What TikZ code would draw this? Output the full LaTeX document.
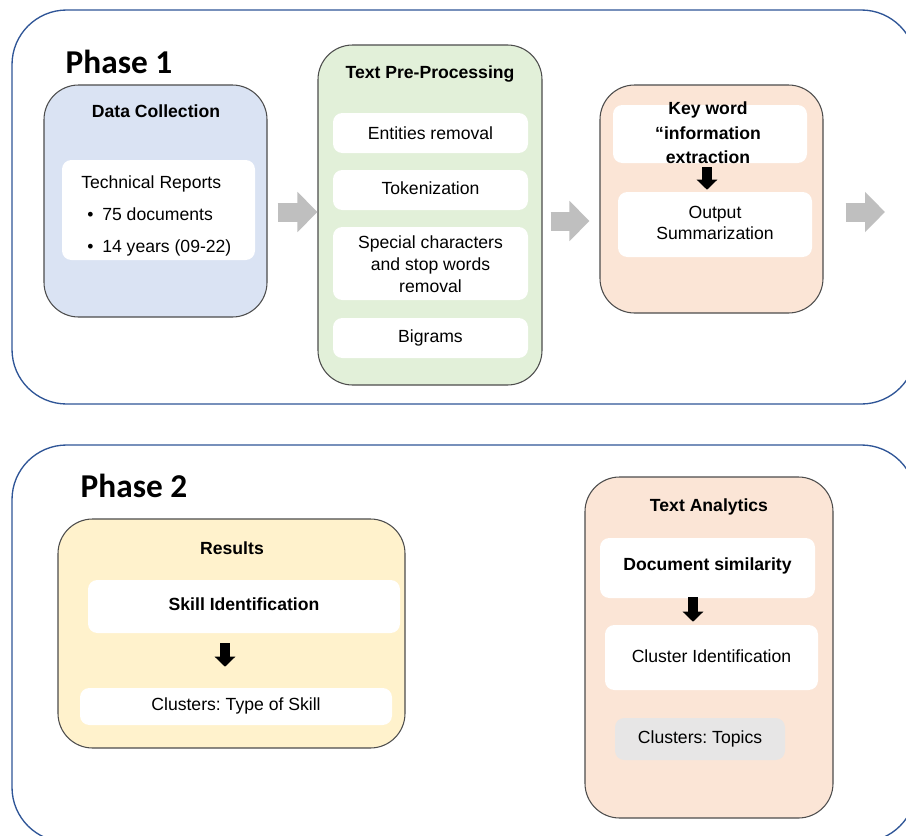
\documentclass[tikz,border=0pt]{standalone}
\usepackage{fontspec}
\setmainfont{Liberation Sans}
\newfontfamily\phasefont{Carlito}
\usetikzlibrary{fit,calc,arrows.meta}
\frenchspacing

\definecolor{framecol}{HTML}{2F5597}
\definecolor{collblue}{HTML}{DAE3F3}
\definecolor{prepgreen}{HTML}{E2F0D9}
\definecolor{extrpeach}{HTML}{FBE5D6}
\definecolor{resyellow}{HTML}{FFF2CC}
\definecolor{topicgray}{HTML}{E7E6E6}
\definecolor{arrowgray}{HTML}{BFBFBF}

\newcommand{\boxfont}{\fontsize{13.2}{16.5}\selectfont}

\tikzset{
  phaseframe/.style={draw=framecol, line width=1pt, rounded corners=41pt},
  phaselabel/.style={font=\phasefont\bfseries\fontsize{25}{30}\selectfont},
  stagebox/.style={draw=black!70, line width=0.8pt, rounded corners=26pt, inner sep=0pt},
  itembox/.style={fill=white, rounded corners=7pt, inner sep=0pt},
  itemtext/.style={font=\boxfont, align=center, inner sep=0pt},
  title/.style={font=\boxfont\bfseries},
  grayarrow/.style={draw=arrowgray, line width=14.25pt, -{Triangle[width=29.25pt,length=15pt]}},
  blackarrow/.style={draw=black, line width=7.5pt, -{Triangle[width=15pt,length=7.5pt]}}
}

\begin{document}
\begin{tikzpicture}[x=0.75pt, y=-0.75pt]
\useasboundingbox (0,0) rectangle (906,835);
\clip (0,0) rectangle (906,835);
\fill[white] (0,0) rectangle (906,835);

% phase frames
\draw[phaseframe] (12,10) rectangle (916,404);
\draw[phaseframe] (12,445) rectangle (916,842);
\node[phaselabel] (p1) at (119,62) {Phase 1};
\node[phaselabel] (p2) at (134,486) {Phase 2};

% data collection
\node[stagebox, fill=collblue, fit={(44,85) (267,317)}] (dc) {};
\node[title] (dctitle) at (156,111) {Data Collection};
\node[itembox, fit={(62,160) (255,260)}] (dcitems) {};
\node[font=\fontsize{13.2}{24}\selectfont, align=left, anchor=west, inner sep=0pt] (reports) at (81,216)
  {Technical Reports\\
   \hspace*{4.5pt}\makebox[11.25pt][l]{\textbullet}75 documents\\
   \hspace*{4.5pt}\makebox[11.25pt][l]{\textbullet}14 years (09-22)};

% text pre-processing
\node[stagebox, fill=prepgreen, fit={(318,45) (542,385)}] (tpp) {};
\node[title] (tpptitle) at (430,74) {Text Pre-Processing};
\node[itembox, fit={(333,113) (528,153)}] (ent) {};
\node[itembox, fit={(333,170) (528,210)}] (tok) {};
\node[itembox, fit={(333,227) (528,300)}] (spc) {};
\node[itembox, fit={(333,318) (528,358)}] (big) {};
\node[itemtext] at (ent) {Entities removal};
\node[itemtext] at ($(tok)+(0,-2)$) {Tokenization};
\node[itemtext] at ($(spc)+(0,1)$) {Special characters\\and stop words\\removal};
\node[itemtext] at (big) {Bigrams};

% key word extraction
\node[stagebox, fill=extrpeach, fit={(600,85) (823,313)}] (kw) {};
\node[itembox, fit={(613,105) (807,163)}] (kwe) {};
\node[title, align=center, font=\fontsize{13.2}{18.4}\selectfont\bfseries] (kwtext) at (708,133)
  {Key word\\``information\\extraction};
\node[itembox, fit={(618,192) (812,257)}] (kwo) {};
\node[itemtext, font=\fontsize{13.2}{15.75}\selectfont] at ($(kwo)+(0,-2)$) {Output\\Summarization};

% results
\node[stagebox, fill=resyellow, fit={(58,519) (405,748)}] (res) {};
\node[title] (restitle) at (232,548) {Results};
\node[itembox, fit={(88,580) (400,633)}] (skill) {};
\node[itembox, fit={(80,688) (392,725)}] (types) {};
\node[itemtext, font=\boxfont\bfseries] at ($(skill)+(0,-2)$) {Skill Identification};
\node[itemtext] at ($(types)+(0,-1)$) {Clusters: Type of Skill};

% text analytics
\node[stagebox, fill=extrpeach, fit={(585,477) (833,818)}] (ta) {};
\node[title] (tatitle) at (709,507) {Text Analytics};
\node[itembox, fit={(600,538) (815,598)}] (sim) {};
\node[itembox, fit={(605,625) (818,690)}] (cid) {};
\node[itembox, fill=topicgray, fit={(615,718) (785,760)}] (topics) {};
\node[itemtext, font=\boxfont\bfseries] at ($(sim)+(0,-2)$) {Document similarity};
\node[itemtext] at ($(cid)+(0,-1)$) {Cluster Identification};
\node[itemtext] at (topics) {Clusters: Topics};

% arrows
\coordinate (next) at (885,212);
\draw[grayarrow] ($(dc.east |- 0,212)+(10,0)$) -- (tpp.west |- 0,212);
\draw[grayarrow] ($(tpp.east |- 0,221)+(8,0)$) -- ($(kw.west |- 0,221)+(-10,0)$);
\draw[grayarrow] ($(kw.east |- 0,212)+(22,0)$) -- (next);
\draw[blackarrow] ($(kwe.south -| 707,0)+(0,4)$) -- ($(kwo.north -| 707,0)+(0,-2)$);
\draw[blackarrow] ($(skill.south -| 225,0)+(0,10)$) -- ($(types.north -| 225,0)+(0,-21)$);
\draw[blackarrow] ($(sim.south -| 693,0)+(0,-1)$) -- ($(cid.north -| 693,0)+(0,-3)$);
\end{tikzpicture}
\end{document}
